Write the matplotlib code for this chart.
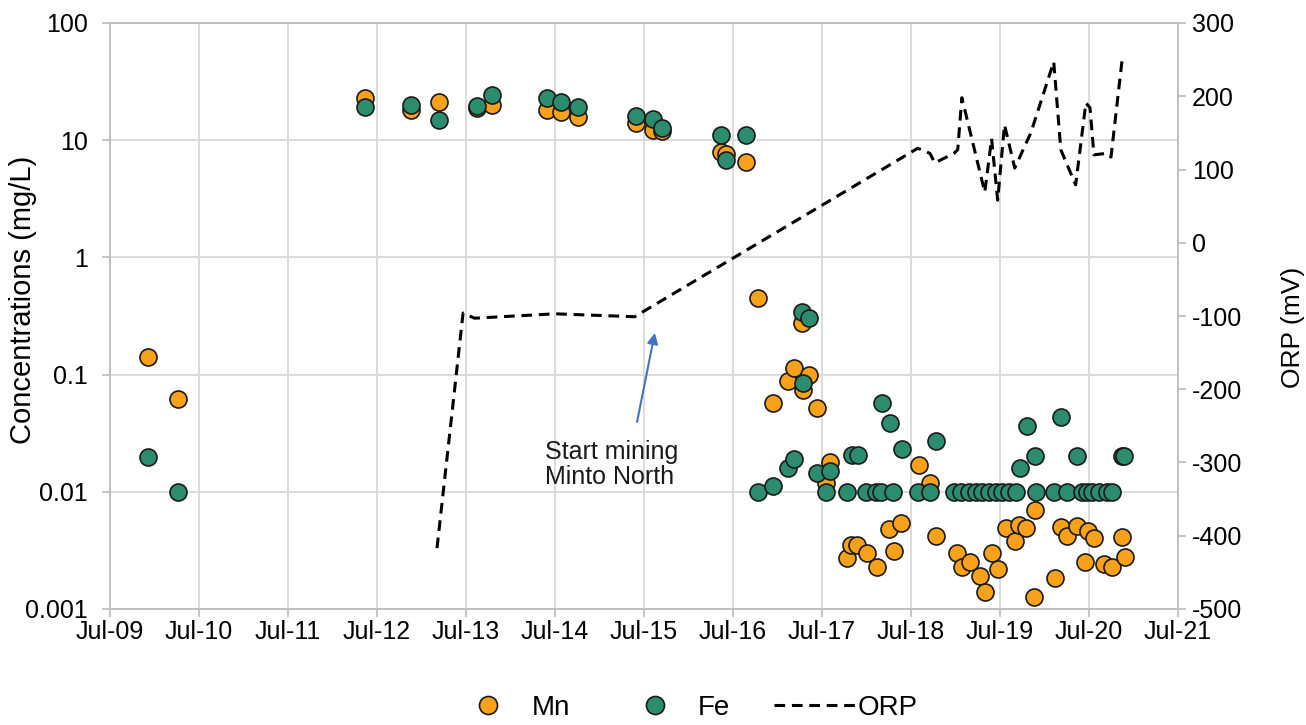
import matplotlib
matplotlib.use("Agg")
import matplotlib.pyplot as plt
import matplotlib.dates as mdates
from matplotlib.ticker import FuncFormatter, MultipleLocator
from matplotlib.lines import Line2D
import pandas as pd

plt.rcParams['font.family'] = ['Liberation Sans', 'DejaVu Sans']
plt.rcParams['axes.unicode_minus'] = False

# Mn concentrations (mg/L)
mn_dates = ['2009-12-04', '2010-04-05', '2012-05-13', '2012-11-18', '2013-03-12',
            '2013-08-15', '2013-10-15', '2014-05-28', '2014-07-25', '2014-10-03',
            '2015-05-28', '2015-08-07', '2015-09-13', '2016-05-13', '2016-06-03',
            '2016-08-23', '2016-10-12', '2016-12-10', '2017-02-10', '2017-03-08',
            '2017-04-10', '2017-04-13', '2017-05-08', '2017-06-10', '2017-07-16',
            '2017-08-03', '2017-10-12', '2017-10-28', '2017-11-21', '2018-01-01',
            '2018-02-13', '2018-04-01', '2018-04-22', '2018-05-20', '2018-08-02',
            '2018-09-17', '2018-10-12', '2019-01-06', '2019-01-26', '2019-02-28',
            '2019-04-10', '2019-04-30', '2019-05-28', '2019-06-22', '2019-07-25',
            '2019-08-31', '2019-09-16', '2019-10-15', '2019-11-17', '2019-11-21',
            '2020-02-11', '2020-03-07', '2020-03-31', '2020-05-11', '2020-06-13',
            '2020-06-26', '2020-07-21', '2020-08-31', '2020-10-03', '2020-11-13',
            '2020-11-25']
mn_vals = [0.14, 0.062, 22.9, 18, 21.2,
           19, 20, 18.1, 17.4, 15.8,
           14.0, 12.2, 12, 7.9, 7.6,
           6.5, 0.45, 0.057, 0.088, 0.114,
           0.276, 0.074, 0.0995, 0.052, 0.012,
           0.018, 0.0027, 0.0035, 0.0035, 0.003,
           0.0023, 0.0048, 0.0031, 0.0054, 0.017,
           0.012, 0.0042, 0.003, 0.0023, 0.0025,
           0.0019, 0.0014, 0.003, 0.0022, 0.0049,
           0.0038, 0.0052, 0.0049, 0.00127, 0.007,
           0.00185, 0.005, 0.0042, 0.0051, 0.0025,
           0.0046, 0.004, 0.0024, 0.0023, 0.0041,
           0.0028]

# Fe concentrations (mg/L)
fe_dates = ['2009-12-04', '2010-04-05', '2012-05-13', '2012-11-18', '2013-03-12',
            '2013-08-15', '2013-10-15', '2014-05-28', '2014-07-25', '2014-10-03',
            '2015-05-28', '2015-08-07', '2015-09-13', '2016-05-13', '2016-06-03',
            '2016-08-23', '2016-10-12', '2016-12-10', '2017-02-10', '2017-03-08',
            '2017-04-10', '2017-04-13', '2017-05-08', '2017-06-10', '2017-07-16',
            '2017-08-03', '2017-10-12', '2017-10-31', '2017-11-24', '2017-12-28',
            '2018-02-09', '2018-03-01', '2018-03-04', '2018-04-05', '2018-04-20',
            '2018-05-24', '2018-07-29', '2018-09-17', '2018-10-12', '2018-12-24',
            '2019-01-22', '2019-02-24', '2019-03-24', '2019-04-18', '2019-05-16',
            '2019-06-14', '2019-07-09', '2019-08-06', '2019-09-04', '2019-09-20',
            '2019-10-19', '2019-11-21', '2019-11-25', '2020-02-07', '2020-03-07',
            '2020-03-31', '2020-05-11', '2020-06-01', '2020-06-22', '2020-07-13',
            '2020-08-10', '2020-09-12', '2020-10-03', '2020-11-13', '2020-11-21']
fe_vals = [0.020, 0.010, 19.2, 20, 14.9,
           19.6, 24.3, 22.9, 21.2, 19.2,
           16.1, 15.2, 12.7, 11.1, 6.8,
           11.1, 0.01, 0.0112, 0.016, 0.019,
           0.34, 0.085, 0.305, 0.0145, 0.01,
           0.015, 0.01, 0.0207, 0.0207, 0.01,
           0.01, 0.01, 0.057, 0.039, 0.01,
           0.023, 0.01, 0.01, 0.027, 0.01,
           0.01, 0.01, 0.01, 0.01, 0.01,
           0.01, 0.01, 0.01, 0.01, 0.016,
           0.0366, 0.0203, 0.01, 0.01, 0.0437,
           0.01, 0.0203, 0.01, 0.01, 0.01,
           0.01, 0.01, 0.01, 0.0203, 0.0203]

# ORP (mV)
orp_dates = ['2013-03-04', '2013-06-19', '2013-08-05', '2014-07-01', '2015-05-24',
             '2018-07-29', '2018-09-17', '2018-10-07', '2018-12-24', '2019-01-09',
             '2019-01-26', '2019-04-30', '2019-05-28', '2019-06-22', '2019-07-20',
             '2019-08-31', '2019-11-05', '2020-02-07', '2020-03-07', '2020-05-07',
             '2020-06-18', '2020-07-05', '2020-07-21', '2020-09-08', '2020-09-29',
             '2020-11-13']
orp_vals = [-417, -96, -103, -97, -101,
            129, 122, 109, 122, 127,
            198, 69, 142, 58, 161,
            102, 150, 247, 127, 79,
            191, 184, 120, 122, 117,
            248]

mining_date = '2015-08-15'
mining_label = 'Start mining\nMinto North'

mn_color = '#F9A11B'
fe_color = '#2B8C6E'
grid_color = '#D9D9D9'
axis_color = '#BFBFBF'
orp_dash = (0, (3.5, 2.2))

fig = plt.figure(figsize=(13.06, 7.25), dpi=100)
ax = fig.add_axes([110 / 1306, 1 - 609 / 725, 1068 / 1306, 586 / 725])
ax2 = ax.twinx()

ax.scatter(pd.to_datetime(mn_dates), mn_vals, s=150, color=mn_color,
           edgecolor='#1a1a1a', linewidth=1.2, zorder=3)
ax.scatter(pd.to_datetime(fe_dates), fe_vals, s=150, color=fe_color,
           edgecolor='#1a1a1a', linewidth=1.2, zorder=4)
ax2.plot(pd.to_datetime(orp_dates), orp_vals, color='black', linewidth=2.2,
         linestyle=orp_dash)

ax.set_yscale('log')
ax.set_ylim(0.001, 100)
ax.yaxis.set_major_formatter(FuncFormatter(lambda v, p: f'{v:g}'))
ax.yaxis.set_minor_locator(plt.NullLocator())
ax.set_xlim(pd.Timestamp('2009-07-01'), pd.Timestamp('2021-07-01'))
ax.xaxis.set_major_locator(mdates.MonthLocator(bymonth=7))
ax.xaxis.set_major_formatter(mdates.DateFormatter('%b-%y'))

ax2.set_ylim(-500, 300)
ax2.yaxis.set_major_locator(MultipleLocator(100))

ax.grid(True, color=grid_color, linewidth=1.3)
ax.set_axisbelow(True)
for a in (ax, ax2):
    for sp in a.spines.values():
        sp.set_color(axis_color)
        sp.set_linewidth(1.3)

ax.tick_params(axis='y', length=6, width=1.3, color=axis_color, labelsize=18, pad=10)
ax.tick_params(axis='x', length=6, width=1.3, color=axis_color, labelsize=18, pad=2)
ax2.tick_params(axis='y', length=6, width=1.3, color=axis_color, labelsize=18, pad=4)

ax.set_ylabel('Concentrations (mg/L)', fontsize=21)
ax.yaxis.set_label_coords(-0.068, 0.527)
ax2.set_ylabel('ORP (mV)', fontsize=19, rotation=90, va='top')
ax2.yaxis.set_label_coords(1.096, 0.48)

# annotation: start of mining at Minto North
md = pd.Timestamp(mining_date)
ax.annotate('', xy=(md, 0.227), xytext=(md - pd.Timedelta(days=73), 0.0395),
            arrowprops=dict(arrowstyle='-|>', color='#4472C4', lw=1.5,
                            mutation_scale=16, shrinkA=0, shrinkB=0))
ax.text(md - pd.Timedelta(days=450), 0.017, mining_label, fontsize=18,
        ha='left', va='center', linespacing=1.05, color='#1a1a1a')

handles = [
    Line2D([], [], marker='o', linestyle='none', markersize=13,
           markerfacecolor=mn_color, markeredgecolor='#1a1a1a', markeredgewidth=1.2),
    Line2D([], [], marker='o', linestyle='none', markersize=13,
           markerfacecolor=fe_color, markeredgecolor='#1a1a1a', markeredgewidth=1.2),
    Line2D([], [], color='black', linewidth=2.2, linestyle=orp_dash),
]
fig.legend(handles, ['Mn', 'Fe', 'ORP'], loc='center', bbox_to_anchor=(0.523, 0.024),
           ncol=3, frameon=False, fontsize=20, handlelength=2.9,
           handletextpad=0.1, columnspacing=1.6)

fig.savefig('out.png', dpi=100)
